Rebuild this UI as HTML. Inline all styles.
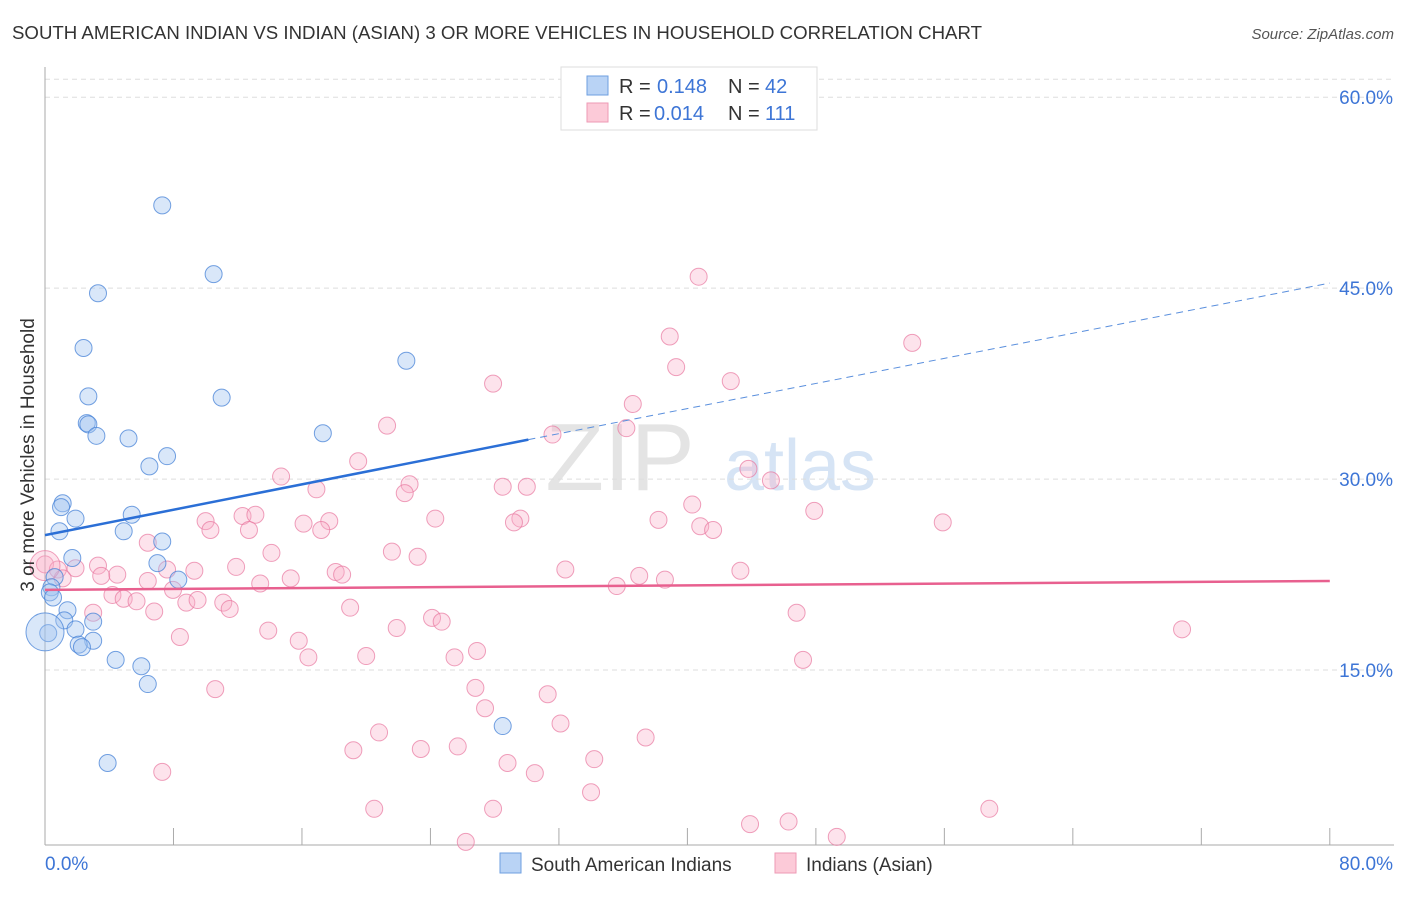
<!DOCTYPE html>
<html><head><meta charset="utf-8"><style>
body{margin:0;background:#fff;font-family:"Liberation Sans",sans-serif}
svg text{font-family:"Liberation Sans",sans-serif}
</style></head><body>
<svg width="1406" height="892" xmlns="http://www.w3.org/2000/svg">
<text x="12" y="39" font-size="18" fill="#333" textLength="970" lengthAdjust="spacingAndGlyphs">SOUTH AMERICAN INDIAN VS INDIAN (ASIAN) 3 OR MORE VEHICLES IN HOUSEHOLD CORRELATION CHART</text>
<text x="1394" y="39" font-size="15" fill="#555" font-style="italic" text-anchor="end">Source: ZipAtlas.com</text>
<text x="620" y="490" font-size="96" fill="#e4e4e4" font-family="Liberation Serif" text-anchor="middle">ZIP</text>
<text x="800" y="490" font-size="72" fill="#d6e4f5" text-anchor="middle">atlas</text>
<g id="grid"></g>
<g id="axes"></g>
<g id="pts"></g>
<g id="trends"></g>
<text transform="translate(34,455) rotate(-90)" font-size="19" fill="#333" text-anchor="middle">3 or more Vehicles in Household</text>
<g>
<rect x="561" y="67" width="256" height="63" fill="#fff" stroke="#ddd"/>
<rect x="587" y="76" width="21" height="19" fill="#b9d3f5" stroke="#6e9fe0"/>
<rect x="587" y="103" width="21" height="19" fill="#fccad8" stroke="#ee9ab5"/>
<text x="619" y="93" font-size="20" fill="#333">R =</text>
<text x="657" y="93" font-size="20" fill="#3d75d6">0.148</text>
<text x="728" y="93" font-size="20" fill="#333">N =</text>
<text x="765" y="93" font-size="20" fill="#3d75d6">42</text>
<text x="619" y="120" font-size="20" fill="#333">R =</text>
<text x="654" y="120" font-size="20" fill="#3d75d6">0.014</text>
<text x="728" y="120" font-size="20" fill="#333">N =</text>
<text x="765" y="120" font-size="20" fill="#3d75d6">111</text>
</g>
<g>
<rect x="500" y="853" width="21" height="20" fill="#b9d3f5" stroke="#6e9fe0"/>
<text x="531" y="871" font-size="19" fill="#333">South American Indians</text>
<rect x="775" y="853" width="21" height="20" fill="#fccad8" stroke="#ee9ab5"/>
<text x="806" y="871" font-size="19" fill="#333">Indians (Asian)</text>
</g>
</svg>
<script>
const yTicks=[15,30,45,60];
const yTickLabels=["15.0%","30.0%","45.0%","60.0%"];
const xTicks=[0,8,16,24,32,40,48,56,64,72,80];
const blueX=[7.3,10.5,3.3,2.4,22.5,2.7,11,2.6,2.7,3.2,17.3,5.2,7.6,6.5,1.1,1,1.9,5.4,0.9,4.9,7.3,1.7,7.0,8.3,0.6,0.4,0.3,0.5,1.4,1.2,3.0,1.9,0.2,3.0,2.1,2.3,4.4,6.0,6.4,28.5,3.9,0];
const blueY=[51.5,46.1,44.6,40.3,39.3,36.5,36.4,34.4,34.3,33.4,33.6,33.2,31.8,31,28.1,27.8,26.9,27.2,25.9,25.9,25.1,23.8,23.4,22.1,22.3,21.5,21.1,20.7,19.7,18.9,18.8,18.2,17.9,17.3,17,16.8,15.8,15.3,13.9,10.6,7.7,18];
const pinkX=[40.7,38.9,54,39.3,42.7,27.9,36.6,21.3,36.2,31.6,19.5,43.8,14.7,45.2,22.7,28.5,30,16.9,22.4,47.9,40.3,12.3,13.1,24.3,10,16.1,17.7,29.6,29.2,38.2,55.9,17.2,10.3,12.7,40.8,41.6,6.4,21.6,14.1,23.2,3.3,0,0.8,1.9,4.5,11.9,7.6,9.3,32.4,43.3,18.1,18.5,37.0,38.6,15.3,3.5,1.1,6.4,13.4,35.6,7.97,4.2,4.9,5.7,8.8,9.5,11.1,11.5,19.0,6.8,3.0,46.8,24.1,24.7,21.9,13.9,8.4,15.8,70.8,16.4,20.0,25.5,26.9,47.2,10.6,26.8,31.3,27.4,32.1,20.8,37.4,19.2,23.4,25.7,34.2,28.8,7.3,30.5,34.0,27.9,20.5,58.8,43.9,46.3,49.3,26.2];
const pinkY=[45.9,41.2,40.7,38.8,37.7,37.5,35.9,34.2,34.0,33.5,31.4,30.8,30.2,29.9,29.6,29.4,29.4,29.2,28.9,27.5,28.0,27.1,27.2,26.9,26.7,26.5,26.7,26.9,26.6,26.8,26.6,26.0,26.0,26.0,26.3,26.0,25.0,24.3,24.2,23.9,23.2,23.3,22.9,23.0,22.5,23.1,22.9,22.8,22.9,22.8,22.7,22.5,22.4,22.1,22.2,22.4,22.2,22.0,21.8,21.6,21.3,20.9,20.6,20.4,20.3,20.5,20.3,19.8,19.9,19.6,19.5,19.5,19.1,18.8,18.3,18.1,17.6,17.3,18.2,16.0,16.1,16.0,16.5,15.8,13.5,13.6,13.1,12.0,10.8,10.1,9.7,8.7,8.8,9.0,8.0,7.7,7.0,6.9,5.4,4.1,4.1,4.1,2.9,3.1,1.9,1.5];
const blueTrend=[[0,25.6],[30.1,33.1]], blueDash=[[30.1,33.1],[80,45.4]];
const pinkTrend=[[0,21.3],[80,22.0]];
const X=v=>45+v*16.06, Y=v=>861-v*12.73;
const NS="http://www.w3.org/2000/svg";
function mk(t,a,p){const e=document.createElementNS(NS,t);for(const k in a)e.setAttribute(k,a[k]);p.appendChild(e);return e;}
const grid=document.getElementById('grid'),axes=document.getElementById('axes');
yTicks.forEach((t,i)=>{const l=mk('line',{x1:45,x2:1394,y1:Y(t),y2:Y(t),stroke:'#ddd','stroke-dasharray':'5,4'},grid);


const tx=mk('text',{x:1393,y:Y(t)+7,'font-size':19,fill:'#3d75d6','text-anchor':'end'},axes);tx.textContent=yTickLabels[i];

});
const tl=mk('line',{x1:45,x2:1394,y1:Y(60)-18,y2:Y(60)-18,stroke:'#ddd','stroke-dasharray':'5,4'},grid);


const ya=mk('line',{x1:45,x2:45,y1:67,y2:845,stroke:'#aaa'},axes);


const xa=mk('line',{x1:45,x2:1394,y1:845,y2:845,stroke:'#aaa'},axes);


xTicks.forEach(t=>{const l=mk('line',{x1:X(t),x2:X(t),y1:828,y2:845,stroke:'#aaa'},axes);

});
[["0.0%",45,'start'],["80.0%",1393,'end']].forEach(([s,x,a])=>{const t=mk('text',{x:x,y:870,'font-size':19,fill:'#3d75d6','text-anchor':a},axes);t.textContent=s;

});
const pts=document.getElementById('pts');
pinkX.forEach((x,i)=>{const c=mk('circle',{cx:X(x),cy:Y(pinkY[i]),r:8.5,fill:'rgba(248,176,200,0.35)',stroke:'rgba(232,120,160,0.7)','stroke-width':1},pts);

});
const bp=mk('circle',{cx:X(0),cy:Y(23.2),r:15,fill:'rgba(248,176,200,0.35)',stroke:'rgba(232,120,160,0.7)'},pts);


blueX.forEach((x,i)=>{const c=mk('circle',{cx:X(x),cy:Y(blueY[i]),r:i==blueX.length-1?19:8.5,fill:'rgba(160,196,240,0.4)',stroke:'rgba(70,130,215,0.75)','stroke-width':1},pts);

});
const tr=document.getElementById('trends');
const b1=mk('line',{x1:X(blueTrend[0][0]),y1:Y(blueTrend[0][1]),x2:X(blueTrend[1][0]),y2:Y(blueTrend[1][1]),stroke:'#2b6fd6','stroke-width':2.5},tr);


const b2=mk('line',{x1:X(blueDash[0][0]),y1:Y(blueDash[0][1]),x2:X(blueDash[1][0]),y2:Y(blueDash[1][1]),stroke:'#5a8fdd','stroke-width':1,'stroke-dasharray':'7,5'},tr);


const p1=mk('line',{x1:X(pinkTrend[0][0]),y1:Y(pinkTrend[0][1]),x2:X(pinkTrend[1][0]),y2:Y(pinkTrend[1][1]),stroke:'#e8608f','stroke-width':2.5},tr);


</script>
</body></html>
